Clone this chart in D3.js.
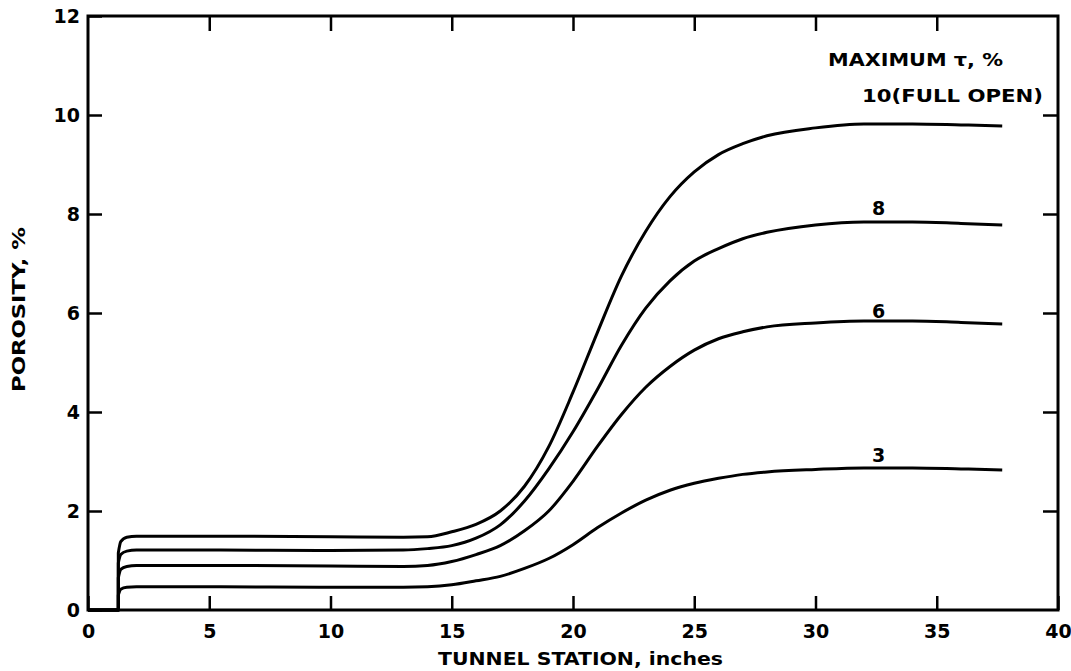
<!DOCTYPE html>
<html>
<head>
<meta charset="utf-8">
<script src="https://cdn.jsdelivr.net/npm/d3@7"></script>
<style>
  body { margin: 0; background: #fff; }
  text { font-family: "DejaVu Sans", sans-serif; font-weight: bold; fill: #000; }
</style>
</head>
<body>
<div id="container"></div>
<script>
// Data
var station = [0, 1.25, 1.25, 1.35, 1.6, 2, 5, 10, 13, 14, 15, 16, 17, 18, 19, 20, 21, 22, 23, 24, 25, 26, 27, 28, 30, 32, 34, 36, 37.7];
var por10 = [0, 0, 1.15, 1.38, 1.47, 1.49, 1.49, 1.48, 1.47, 1.48, 1.58, 1.73, 2.0, 2.5, 3.3, 4.4, 5.6, 6.75, 7.65, 8.35, 8.85, 9.2, 9.42, 9.58, 9.74, 9.82, 9.82, 9.8, 9.78];
var por8 = [0, 0, 0.95, 1.12, 1.19, 1.21, 1.21, 1.2, 1.21, 1.24, 1.3, 1.45, 1.72, 2.2, 2.85, 3.6, 4.45, 5.35, 6.1, 6.65, 7.05, 7.3, 7.5, 7.63, 7.78, 7.84, 7.84, 7.81, 7.78];
var por6 = [0, 0, 0.65, 0.82, 0.88, 0.9, 0.9, 0.89, 0.88, 0.9, 0.98, 1.12, 1.3, 1.6, 2.0, 2.6, 3.3, 3.95, 4.5, 4.92, 5.25, 5.48, 5.62, 5.72, 5.8, 5.84, 5.84, 5.81, 5.78];
var por3 = [0, 0, 0.3, 0.42, 0.46, 0.47, 0.47, 0.46, 0.46, 0.47, 0.51, 0.59, 0.68, 0.84, 1.04, 1.32, 1.66, 1.96, 2.22, 2.42, 2.56, 2.66, 2.74, 2.79, 2.84, 2.87, 2.87, 2.85, 2.83];

var xTicks = [0, 5, 10, 15, 20, 25, 30, 35, 40];
var yTicks = [0, 2, 4, 6, 8, 10, 12];
var curveLabels = ["8", "6", "3"];
var labelValues = [7.98, 5.9, 2.99];

// Set width and height
var width = 1071,
    height = 671;
var margin = {top: 16, right: 13, bottom: 61, left: 88};
var w = width - margin.left - margin.right,
    h = height - margin.top - margin.bottom;

var svg = d3.select("#container")
            .append("svg")
              .attr("width", width)
              .attr("height", height);

var g = svg.append("g")
           .attr("transform", "translate(" + margin.left + "," + margin.top + ")");

var x = d3.scaleLinear().domain([0, 40]).range([0, w]);
var y = d3.scaleLinear().domain([0, 12]).range([h, 0]);

// Frame
g.append("rect")
  .attr("width", w)
  .attr("height", h)
  .attr("fill", "none")
  .attr("stroke", "#000")
  .attr("stroke-width", 3);

// Bottom axis, ticks pointing inside
var xAxis = g.append("g")
  .attr("transform", "translate(0," + h + ")")
  .call(d3.axisBottom(x).tickValues(xTicks).tickSizeInner(-14).tickSizeOuter(0).tickPadding(10));
xAxis.select(".domain").remove();
xAxis.selectAll("line").attr("stroke-width", 2.5);
xAxis.selectAll("text").style("font-size", "19px").attr("dy", "0.95em");

// Top axis, only tick marks
var xTop = g.append("g")
  .call(d3.axisTop(x).tickValues(xTicks.slice(1, -1)).tickSizeInner(-15).tickSizeOuter(0).tickFormat(""));
xTop.select(".domain").remove();
xTop.selectAll("line").attr("stroke-width", 2.5);

// Left axis
var yAxis = g.append("g")
  .call(d3.axisLeft(y).tickValues(yTicks).tickSizeInner(-14).tickSizeOuter(0).tickPadding(8));
yAxis.select(".domain").remove();
yAxis.selectAll("line").attr("stroke-width", 2.5);
yAxis.selectAll("text").style("font-size", "19px");

// Right axis, only tick marks
var yRight = g.append("g")
  .attr("transform", "translate(" + w + ",0)")
  .call(d3.axisRight(y).tickValues(yTicks.slice(1, -1)).tickSizeInner(-15).tickSizeOuter(0).tickFormat(""));
yRight.select(".domain").remove();
yRight.selectAll("line").attr("stroke-width", 2.5);

// Curves: straight start (flat + vertical), then smooth part
var straight = d3.line()
  .x(function(d) { return x(d[0]); })
  .y(function(d) { return y(d[1]); });

var smooth = d3.line()
  .x(function(d) { return x(d[0]); })
  .y(function(d) { return y(d[1]); })
  .curve(d3.curveMonotoneX);

[por10, por8, por6, por3].forEach(function(series) {
  var pts = d3.zip(station, series);
  g.append("path")
    .attr("d", straight(pts.slice(0, 3)) + smooth(pts.slice(2)).replace(/^M[^CLMZ]*/, ""))
    .attr("fill", "none")
    .attr("stroke", "#000")
    .attr("stroke-width", 3)
    .attr("stroke-linejoin", "round");
});

// Curve labels
g.selectAll(".clabel")
  .data(curveLabels)
  .enter()
  .append("text")
    .attr("class", "clabel")
    .attr("x", x(32.6))
    .attr("y", function(d, i) { return y(labelValues[i]); })
    .attr("text-anchor", "middle")
    .style("font-size", "19px")
    .text(function(d) { return d; });

// Legend heading
svg.append("text")
  .attr("x", 828)
  .attr("y", 66)
  .attr("textLength", 175)
  .attr("lengthAdjust", "spacingAndGlyphs")
  .style("font-size", "18px")
  .text("MAXIMUM τ, %");

svg.append("text")
  .attr("x", 862)
  .attr("y", 102)
  .attr("textLength", 181)
  .attr("lengthAdjust", "spacingAndGlyphs")
  .style("font-size", "18px")
  .text("10(FULL OPEN)");

// Axis titles
svg.append("text")
  .attr("x", 438)
  .attr("y", 665)
  .attr("textLength", 285)
  .attr("lengthAdjust", "spacingAndGlyphs")
  .style("font-size", "18px")
  .text("TUNNEL STATION, inches");

svg.append("text")
  .attr("transform", "translate(25,392) rotate(-90)")
  .attr("textLength", 165)
  .attr("lengthAdjust", "spacingAndGlyphs")
  .style("font-size", "18px")
  .text("POROSITY, %");
</script>
</body>
</html>
